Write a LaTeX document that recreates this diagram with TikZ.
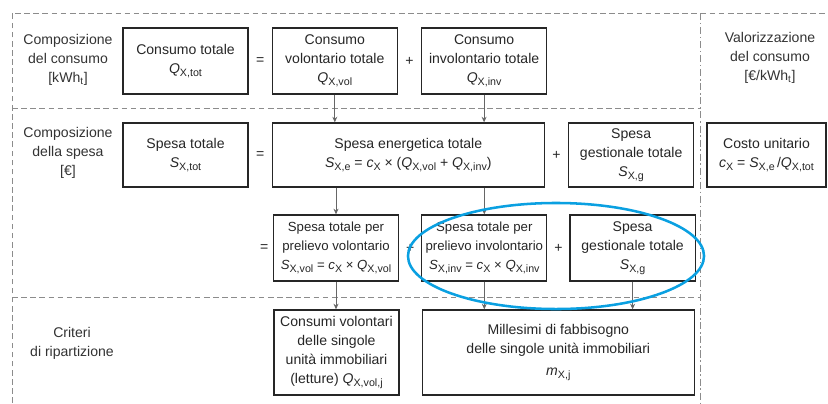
\documentclass[tikz,border=0pt]{standalone}
\usepackage{fontspec}
\setmainfont{Liberation Sans}
\usetikzlibrary{chains,positioning,calc,arrows.meta,shapes}

\definecolor{ring}{RGB}{10,160,225}
\newcommand\vq[2]{\textit{#1}\raisebox{-0.45ex}{\fontsize{7.6}{9}\selectfont #2}}

\begin{document}
\begin{tikzpicture}[x=0.025cm,y=-0.025cm]
        \tikzstyle{every node}=[font=\fontsize{10}{13.5}\selectfont,align=center,text=black!85]

        \edef\boxw{3.125cm}
        \tikzstyle{box}=[draw=black!85,line width=0.9pt,minimum width=\boxw,minimum height=1.65cm,inner sep=1pt]
        \tikzstyle{wbox}=[box,minimum width=6.8cm]
        \tikzstyle{sign}=[draw=none,inner sep=1pt]
        \tikzstyle{side}=[draw=none,text=black!80]
        \tikzstyle{frame}=[black!45,line width=0.6pt,dash pattern=on 4pt off 2.5pt]
        \tikzstyle{link}=[black!60,line width=0.6pt,-{Stealth[length=4pt,width=3.5pt]}]

        \useasboundingbox (0,0) rectangle (828,403);

        %frame lines
        \draw[frame] (12,403) -- (12,13) -- (828,13);
        \draw[frame] (12,108) -- (700,108);
        \draw[frame] (12,297) -- (700,297);
        \draw[frame,dash pattern=on 5pt off 2pt on 1pt off 2pt] (700,13) -- (700,403);

        %consumption row
        \begin{scope}[start chain=1 going right,node distance=0.575cm]
        \node [on chain=1,box] at (185.5,61) (qtot) {Consumo totale\\\vq{Q}{X,tot}};
        \node [on chain=1,box] (qvol) {Consumo\\volontario totale\\\vq{Q}{X,vol}};
        \node [on chain=1,box] (qinv) {Consumo\\involontario totale\\\vq{Q}{X,inv}};
        \end{scope}

        %expense row
        \begin{scope}[start chain=2 going right,node distance=0.575cm]
        \node [on chain=2,box,minimum height=1.6cm] at (185.5,155) (stot) {Spesa totale\\\vq{S}{X,tot}};
        \node [on chain=2,wbox,minimum height=1.6cm] (se) {Spesa energetica totale\\\vq{S}{X,e} = \vq{c}{X} × (\vq{Q}{X,vol} + \vq{Q}{X,inv})};
        \node [on chain=2,box,minimum height=1.6cm] (sg) {Spesa\\gestionale totale\\\vq{S}{X,g}};
        \end{scope}
        \node [box,minimum width=2.975cm,minimum height=1.6cm] at (766.5,155) (cx) {Costo unitario\\\vq{c}{X} = \vq{S}{X,e}\,/\vq{Q}{X,tot}};

        %split row
        \begin{scope}[start chain=3 going right,node distance=0.55cm,every node/.append style={font=\fontsize{9.4}{13.5}\selectfont}]
        \node [on chain=3,box] at (336,248) (svol) {Spesa totale per\\prelievo volontario\\\vq{S}{X,vol} = \vq{c}{X} × \vq{Q}{X,vol}};
        \node [on chain=3,box] (sinv) {Spesa totale per\\prelievo involontario\\\vq{S}{X,inv} = \vq{c}{X} × \vq{Q}{X,inv}};
        \node [on chain=3,box,font=\fontsize{10}{13.5}\selectfont] (sgb) {Spesa\\gestionale totale\\\vq{S}{X,g}};
        \end{scope}

        %criteria row
        \node [box,minimum height=2.125cm] at (336.5,352.5) (cvol) {Consumi volontari\\delle singole\\unità immobiliari\\(letture) \vq{Q}{X,vol,j}};
        \node [wbox,minimum height=2.125cm,right=0.55cm of cvol] (mill) {Millesimi di fabbisogno\\delle singole unità immobiliari\\[2pt]\vq{m}{X,j}};

        %row labels
        \node [side] at (68,60) (lcons) {Composizione\\del consumo\\{[kWh\textsubscript{t}]}};
        \node [side] at (68,153) (lspesa) {Composizione\\della spesa\\{[€]}};
        \node [side] at (72,343) (lcrit) {Criteri\\di ripartizione};
        \node [side] at (770,58) (lval) {Valorizzazione\\del consumo\\{[€/kWh\textsubscript{t}]}};

        %signs between the boxes
        \foreach \a/\b/\s in {qtot/qvol/=, qvol/qinv/+, stot/se/=, se/sg/+, svol/sinv/+, sinv/sgb/+} {
            \node [sign] at ($(\a.east)!0.5!(\b.west)$) (\a_\b) {\s};
        };
        \node [sign,left=2pt of svol] (eq_svol) {=};

        %arrows
        \draw [link] (qvol.south) -- (qvol.south |- se.north);
        \draw [link] (qinv.south) -- (qinv.south |- se.north);
        \draw [link] (se.south -| svol.north) -- (svol.north);
        \draw [link] (se.south -| sinv.north) -- (sinv.north);
        \draw [link] (svol.south) -- (svol.south |- cvol.north);
        \draw [link] (sinv.south) -- (sinv.south |- mill.north);
        \draw [link] (sgb.south) -- (sgb.south |- mill.north);

        %highlight
        \draw [ring,line width=1.8pt] (556,256) ellipse [x radius=3.7cm,y radius=1.325cm];
\end{tikzpicture}
\end{document}
